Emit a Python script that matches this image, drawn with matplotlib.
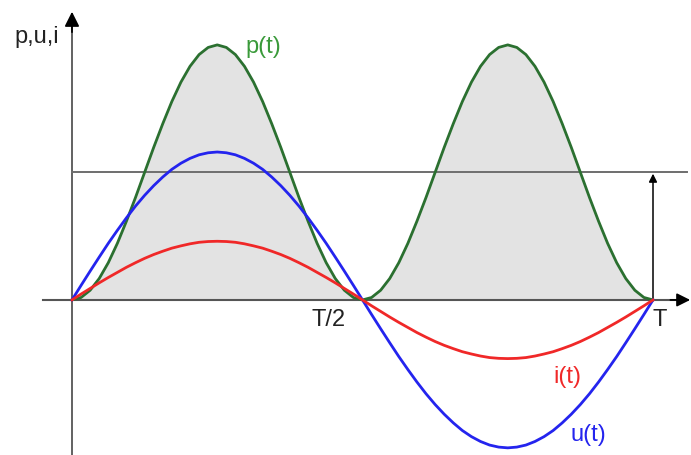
import matplotlib
matplotlib.use("Agg")
import matplotlib.pyplot as plt

# time in units of the period T, sampled every T/64
t = [k / 64 for k in range(65)]

# first quarter period (p peak = 1), rest by symmetry
u_q = [0, 0.057, 0.113, 0.168, 0.222, 0.273, 0.322, 0.368, 0.410,
       0.448, 0.482, 0.512, 0.536, 0.555, 0.569, 0.577, 0.58]
i_q = [0, 0.023, 0.045, 0.067, 0.088, 0.108, 0.128, 0.146, 0.163,
       0.178, 0.191, 0.203, 0.212, 0.220, 0.226, 0.229, 0.23]
p_q = [0, 0.0096, 0.038, 0.084, 0.146, 0.222, 0.309, 0.402, 0.5,
       0.598, 0.691, 0.778, 0.854, 0.916, 0.962, 0.990, 1.0]
p_mean = 0.5


def half(q):
    return q + q[-2::-1]


u_half = half(u_q)
i_half = half(i_q)
p_half = half(p_q)
u = u_half + [-v for v in u_half[1:]]
i = i_half + [-v for v in i_half[1:]]
p = p_half + p_half[1:]

plt.rcParams["font.family"] = ["Liberation Sans", "DejaVu Sans"]

fig = plt.figure(figsize=(6.91, 4.55), dpi=100)
ax = fig.add_axes([0, 0, 1, 1])
ax.set_xlim(-0.1239, 1.0654)
ax.set_ylim(-0.608, 1.176)
ax.axis("off")

axis_col = "#555555"

ax.fill_between(t, 0, p, color="#e3e3e3", lw=0, zorder=1)

# axes
ax.plot([0, 0], [-0.62, 1.08], color=axis_col, lw=1.3, zorder=2)
ax.annotate("", xy=(0, 1.13), xytext=(0, 1.05),
            arrowprops=dict(arrowstyle="-|>", color="black", lw=1.3,
                            mutation_scale=22, shrinkA=0, shrinkB=0))
ax.plot([-0.05, 1.045], [0, 0], color=axis_col, lw=1.5, zorder=2)
ax.annotate("", xy=(1.064, 0), xytext=(1.03, 0),
            arrowprops=dict(arrowstyle="-|>", color="black", lw=1.3,
                            mutation_scale=20, shrinkA=0, shrinkB=0))

# mean power line and arrow
ax.plot([0, 1.058], [p_mean, p_mean], color="#6e6e6e", lw=1.4, zorder=2)
ax.annotate("", xy=(1.0, p_mean - 0.005), xytext=(1.0, 0),
            arrowprops=dict(arrowstyle="-|>", color="black", lw=1.1,
                            mutation_scale=12, shrinkA=0, shrinkB=0))

ax.plot(t, p, color="#2b7030", lw=2, zorder=3)
ax.plot(t, u, color="#2424ee", lw=2, zorder=4)
ax.plot(t, i, color="#f02828", lw=2, zorder=5)

fs = 17
ax.text(-0.060, 1.031, "p,u,i", fontsize=fs, ha="center", va="center", color="#222222")
ax.text(0.329, 0.992, "p(t)", fontsize=fs, ha="center", va="center", color="#3a9a3a")
ax.text(0.442, -0.078, "T/2", fontsize=fs, ha="center", va="center", color="#222222")
ax.text(1.012, -0.078, "T", fontsize=fs, ha="center", va="center", color="#222222")
ax.text(0.852, -0.302, "i(t)", fontsize=fs, ha="center", va="center", color="#f02828")
ax.text(0.888, -0.529, "u(t)", fontsize=fs, ha="center", va="center", color="#2424ee")

fig.savefig("out.png", dpi=100)
